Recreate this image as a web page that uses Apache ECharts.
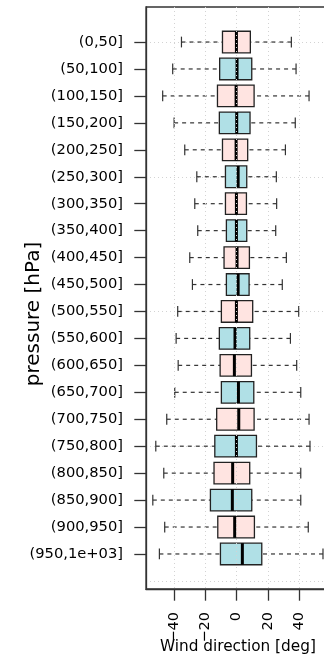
<!DOCTYPE html>
<html>
<head>
<meta charset="utf-8">
<script src="https://cdn.jsdelivr.net/npm/echarts@6/dist/echarts.min.js"></script>
<style>
  html, body { margin: 0; padding: 0; background: #ffffff; }
  #chart { width: 324px; height: 655px; }
</style>
</head>
<body>
<div id="chart"></div>
<script>
// Pressure layers, listed top to bottom
const categories = [
  '(0,50]', '(50,100]', '(100,150]', '(150,200]', '(200,250]',
  '(250,300]', '(300,350]', '(350,400]', '(400,450]', '(450,500]',
  '(500,550]', '(550,600]', '(600,650]', '(650,700]', '(700,750]',
  '(750,800]', '(800,850]', '(850,900]', '(900,950]', '(950,1e+03]'
];

// Five-number summaries of wind direction per layer [deg]
const whiskerLow  = [-35.3, -40.9, -47.3, -40.0, -33.2, -25.5, -26.8, -24.9, -30.0, -28.3,
                     -37.7, -38.7, -37.4, -39.6, -44.7, -51.7, -46.6, -53.6, -46.0, -49.4];
const lowerQuart  = [-9.1, -10.9, -12.3, -11.1, -9.1, -7.2, -7.2, -6.6, -8.1, -6.6,
                     -9.8, -11.1, -10.6, -9.8, -12.8, -14.0, -14.5, -16.8, -12.1, -10.4];
const medians     = [-0.2, 0.2, -0.4, 0.0, -0.4, 0.9, -0.2, -0.2, 0.2, 0.9,
                     -0.2, -1.1, -1.5, 1.1, 1.3, -0.2, -2.6, -2.8, -1.3, 3.6];
const upperQuart  = [8.7, 9.6, 11.1, 8.5, 7.0, 6.4, 6.2, 6.4, 8.1, 7.9,
                     10.2, 8.3, 9.4, 10.9, 11.1, 12.6, 8.3, 9.6, 11.3, 16.0];
const whiskerHigh = [34.9, 37.9, 46.2, 37.4, 31.1, 25.3, 25.5, 24.9, 31.7, 29.1,
                     39.6, 34.3, 38.3, 40.9, 46.2, 46.8, 40.9, 40.9, 45.7, 55.1];

const boxFills = ['#FFE4E1', '#B0E0E6'];
const xTickValues = [-40, -20, 0, 20, 40];
const yGridValues = [0, 5, 10, 15, 20];

const FONT = 'DejaVu Sans';
const INK = '#333333';

// Group i sits at position n - i so the first layer is drawn at the top
const n = categories.length;
const positions = categories.map((_, i) => n - i);
const boxData = categories.map((_, i) => [
  positions[i], whiskerLow[i], lowerQuart[i], medians[i], upperQuart[i], whiskerHigh[i], i % boxFills.length
]);

// Negative tick labels use a true minus sign
const formatTick = v => (v < 0 ? '\u2212' + Math.abs(v) : String(v));

function renderBox(params, api) {
  const pos = api.value(0);
  const y = api.coord([0, pos])[1];
  const xs = [1, 2, 3, 4, 5].map(d => api.coord([api.value(d), pos])[0]);
  const boxHalf = api.size([0, 0.4])[1];
  const capHalf = api.size([0, 0.2])[1];
  const fill = boxFills[api.value(6)];
  const whisker = { stroke: INK, lineWidth: 1.2, lineDash: [4, 4] };
  const solid = { stroke: INK, lineWidth: 1.2 };
  return {
    type: 'group',
    children: [
      { type: 'line', shape: { x1: xs[0], y1: y, x2: xs[1], y2: y }, style: whisker },
      { type: 'line', shape: { x1: xs[4], y1: y, x2: xs[3], y2: y }, style: whisker },
      { type: 'line', shape: { x1: xs[0], y1: y - capHalf, x2: xs[0], y2: y + capHalf }, style: solid },
      { type: 'line', shape: { x1: xs[4], y1: y - capHalf, x2: xs[4], y2: y + capHalf }, style: solid },
      { type: 'rect', shape: { x: xs[1], y: y - boxHalf, width: xs[3] - xs[1], height: 2 * boxHalf },
        style: { fill: fill, stroke: '#222222', lineWidth: 1.3 } },
      { type: 'line', shape: { x1: xs[2], y1: y - boxHalf, x2: xs[2], y2: y + boxHalf },
        style: { stroke: '#000000', lineWidth: 3 } }
    ]
  };
}

const chart = echarts.init(document.getElementById('chart'), null, { renderer: 'canvas' });
chart.setOption({
  animation: false,
  grid: {
    left: 146, top: 7, right: -5.8, bottom: 66,
    outerBoundsMode: 'none',
    containLabel: false,
    show: true, borderColor: INK, borderWidth: 1.3, backgroundColor: 'transparent'
  },
  xAxis: {
    type: 'value',
    min: -57.95, max: 59.45,
    z: 5,
    name: 'Wind direction [deg]',
    nameLocation: 'middle',
    nameGap: 51,
    nameMoveOverlap: false,
    nameTextStyle: { fontFamily: FONT, fontSize: 15.3, color: '#000000' },
    axisLine: { show: true, onZero: false, lineStyle: { color: INK, width: 1.3 } },
    axisTick: { show: true, length: 11.7, customValues: xTickValues, lineStyle: { color: INK, width: 1.3 } },
    axisLabel: {
      customValues: xTickValues, rotate: 90, align: 'right', verticalAlign: 'middle',
      margin: 23, fontFamily: FONT, fontSize: 14.5, color: '#000000',
      formatter: formatTick
    },
    splitLine: { show: true, lineStyle: { color: '#d3d3d3', type: [1, 3], width: 1 } }
  },
  yAxis: [
    {
      type: 'value',
      min: -0.3, max: 21.3,
      position: 'left',
      name: 'pressure [hPa]',
      nameLocation: 'middle',
      nameRotate: 90,
      nameGap: 102,
      nameMoveOverlap: false,
      nameTextStyle: { fontFamily: FONT, fontSize: 20, color: '#000000', padding: [0, 32, 0, 0] },
      axisLine: { show: true, onZero: false, lineStyle: { color: INK, width: 1.3 } },
      axisTick: { show: true, length: 11.7, customValues: positions, lineStyle: { color: INK, width: 1.3 } },
      axisLabel: {
        customValues: positions, margin: 23, fontFamily: FONT, fontSize: 14.7, color: '#000000',
        formatter: v => categories[n - v]
      },
      splitLine: { show: false }
    },
    {
      type: 'value',
      min: -0.3, max: 21.3,
      position: 'right',
      axisLine: { show: false },
      axisTick: { show: false, customValues: yGridValues },
      axisLabel: { show: false },
      splitLine: { show: true, lineStyle: { color: '#d3d3d3', type: [1, 3], width: 1 } }
    }
  ],
  series: [{
    type: 'custom',
    renderItem: renderBox,
    data: boxData,
    encode: { x: [1, 5], y: 0 },
    z: 2
  }]
});
</script>
</body>
</html>
